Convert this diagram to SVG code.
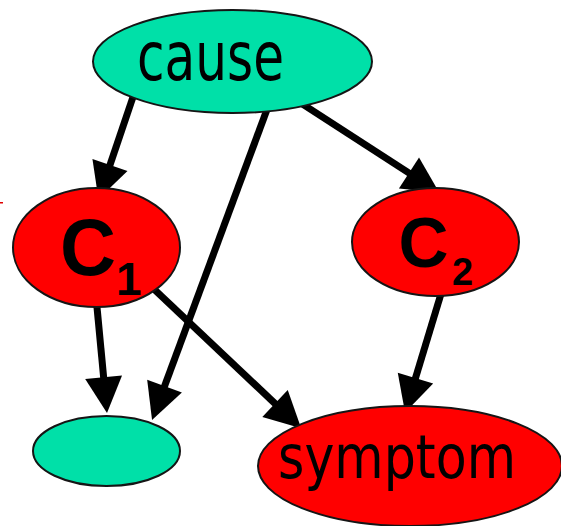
<svg xmlns="http://www.w3.org/2000/svg" width="561" height="526" viewBox="0 0 561 526">
<style>
.teal{fill:#00e0a8;stroke:#151515;stroke-width:2}
.red{fill:#ff0000;stroke:#151515;stroke-width:2}
.edge{stroke:#000;stroke-width:7;fill:none;marker-end:url(#ah)}
.lbl{font-family:"DejaVu Sans","Liberation Sans",sans-serif;fill:#000}
.bold{font-family:"Liberation Sans",Arial,sans-serif;font-weight:bold;fill:#000}
</style>
<defs>
<marker id="ah" markerUnits="userSpaceOnUse" markerWidth="36" markerHeight="37" refX="3" refY="18.5" orient="auto" overflow="visible">
<path d="M0,0 L36,18.5 L0,37 z" fill="#000"/>
</marker>
</defs>
<rect width="561" height="526" fill="#fff"/>
<rect x="0" y="202" width="3" height="1.5" fill="#e00000"/>
<g id="connectors">
<line class="edge" x1="138.4" y1="81" x2="109" y2="167.8"/>
<line class="edge" x1="271.9" y1="96.2" x2="163.5" y2="389"/>
<line class="edge" x1="290.2" y1="96.1" x2="411.5" y2="174.6"/>
<line class="edge" x1="95.1" y1="287.1" x2="103.9" y2="380.2"/>
<line class="edge" x1="142.5" y1="278.3" x2="277.2" y2="405.6"/>
<line class="edge" x1="445.8" y1="277.9" x2="414.6" y2="380.9"/>
</g>
<g id="cause">
<ellipse class="teal" cx="232.5" cy="61.5" rx="139.5" ry="51.5"/>
<text class="lbl" x="137" y="80" font-size="68" textLength="147" lengthAdjust="spacingAndGlyphs">cause</text>
</g>
<g id="C1">
<ellipse class="red" cx="96.5" cy="247.5" rx="83.5" ry="59.5"/>
<text class="bold" x="60" y="275" font-size="80" textLength="56" lengthAdjust="spacingAndGlyphs">C</text>
<text class="bold" x="116" y="295" font-size="46">1</text>
</g>
<g id="C2">
<ellipse class="red" cx="435.5" cy="242" rx="83.5" ry="54"/>
<text class="bold" x="398.5" y="267" font-size="70" textLength="50" lengthAdjust="spacingAndGlyphs">C</text>
<text class="bold" x="452" y="285" font-size="38">2</text>
</g>
<g id="effect">
<ellipse class="teal" cx="106.5" cy="451" rx="73.5" ry="35"/>
</g>
<g id="symptom">
<ellipse class="red" cx="410" cy="466" rx="152" ry="60"/>
<text class="lbl" x="278" y="478" font-size="60" textLength="238" lengthAdjust="spacingAndGlyphs">symptom</text>
</g>
</svg>
